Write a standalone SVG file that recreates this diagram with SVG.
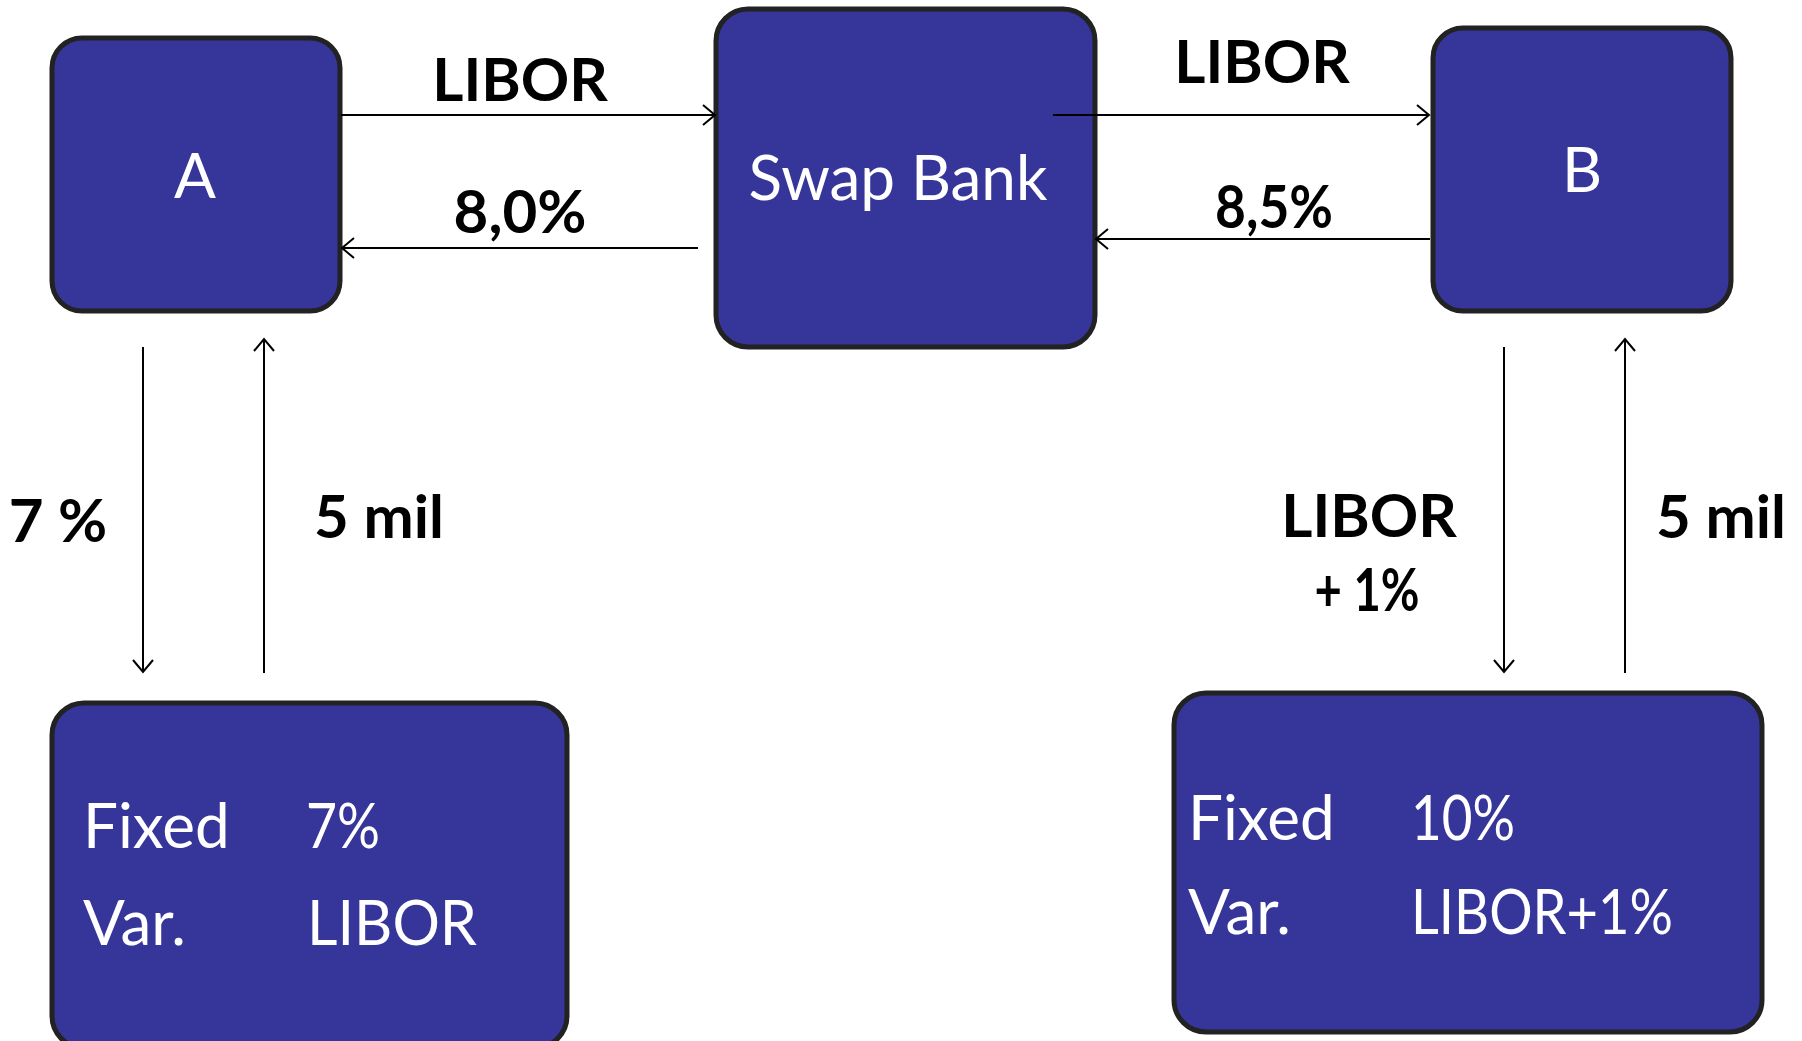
<svg xmlns="http://www.w3.org/2000/svg" width="1802" height="1041" viewBox="0 0 1802 1041">
<style>
.box{fill:#35359a;stroke:#222;stroke-width:5}
.wt{fill:#fff;font-family:Lato,"Noto Sans",sans-serif;font-size:62px}
.bt{fill:#000;font-family:Lato,"Noto Sans",sans-serif;font-weight:bold;font-size:60px}
.ln{stroke:#000;stroke-width:2;fill:none}
</style>
<defs>
<marker id="ah" markerUnits="userSpaceOnUse" markerWidth="20" markerHeight="24" refX="14" refY="12" orient="auto">
<path d="M2,2 L14,12 L2,22" fill="none" stroke="#000" stroke-width="2"/>
</marker>
</defs>
<rect width="1802" height="1041" fill="#fff"/>
<g id="node-a">
<rect class="box" x="52" y="38" width="288" height="273" rx="30"/>
<text class="wt" x="195" y="198" text-anchor="middle">A</text>
</g>
<g id="node-swap-bank">
<rect class="box" x="716" y="9" width="379" height="338" rx="32"/>
<text class="wt" x="898" y="200" text-anchor="middle">Swap Bank</text>
</g>
<g id="node-b">
<rect class="box" x="1433" y="28" width="298" height="283" rx="30"/>
<text class="wt" x="1582" y="192" text-anchor="middle">B</text>
</g>
<g id="node-a-rates">
<rect class="box" x="52" y="703" width="515" height="345" rx="32"/>
<text class="wt" x="83" y="848">Fixed</text>
<text class="wt" x="306" y="848" textLength="74" lengthAdjust="spacingAndGlyphs">7%</text>
<text class="wt" x="83" y="945">Var.</text>
<text class="wt" x="307" y="945" textLength="170" lengthAdjust="spacingAndGlyphs">LIBOR</text>
</g>
<g id="node-b-rates">
<rect class="box" x="1174" y="693" width="588" height="339" rx="32"/>
<text class="wt" x="1188" y="840">Fixed</text>
<text class="wt" x="1411" y="840" textLength="104" lengthAdjust="spacingAndGlyphs">10%</text>
<text class="wt" x="1188" y="934">Var.</text>
<text class="wt" x="1411" y="934" textLength="262" lengthAdjust="spacingAndGlyphs">LIBOR+1%</text>
</g>
<g id="connectors">
<line class="ln" x1="341" y1="115" x2="715" y2="115" marker-end="url(#ah)"/>
<line class="ln" x1="698" y1="248" x2="342" y2="248" marker-end="url(#ah)"/>
<line class="ln" x1="1053" y1="115" x2="1429" y2="115" marker-end="url(#ah)"/>
<line class="ln" x1="1430" y1="239" x2="1096" y2="239" marker-end="url(#ah)"/>
<line class="ln" x1="143" y1="347" x2="143" y2="672" marker-end="url(#ah)"/>
<line class="ln" x1="264" y1="673" x2="264" y2="339" marker-end="url(#ah)"/>
<line class="ln" x1="1504" y1="347" x2="1504" y2="672" marker-end="url(#ah)"/>
<line class="ln" x1="1625" y1="673" x2="1625" y2="339" marker-end="url(#ah)"/>
</g>
<g id="labels">
<text class="bt" x="520" y="101" text-anchor="middle" font-size="62">LIBOR</text>
<text class="bt" x="520" y="233" text-anchor="middle" font-size="57">8,0%</text>
<text class="bt" x="1262" y="83" text-anchor="middle" font-size="62">LIBOR</text>
<text class="bt" x="1274" y="228" text-anchor="middle" font-size="57" textLength="118" lengthAdjust="spacingAndGlyphs">8,5%</text>
<text class="bt" x="58" y="542" text-anchor="middle">7 %</text>
<text class="bt" x="379" y="538" text-anchor="middle">5 mil</text>
<text class="bt" x="1369" y="537" text-anchor="middle" font-size="62">LIBOR</text>
<text class="bt" x="1367" y="611" text-anchor="middle" font-size="54" textLength="105" lengthAdjust="spacingAndGlyphs">+ 1%</text>
<text class="bt" x="1721" y="538" text-anchor="middle">5 mil</text>
</g>
</svg>
